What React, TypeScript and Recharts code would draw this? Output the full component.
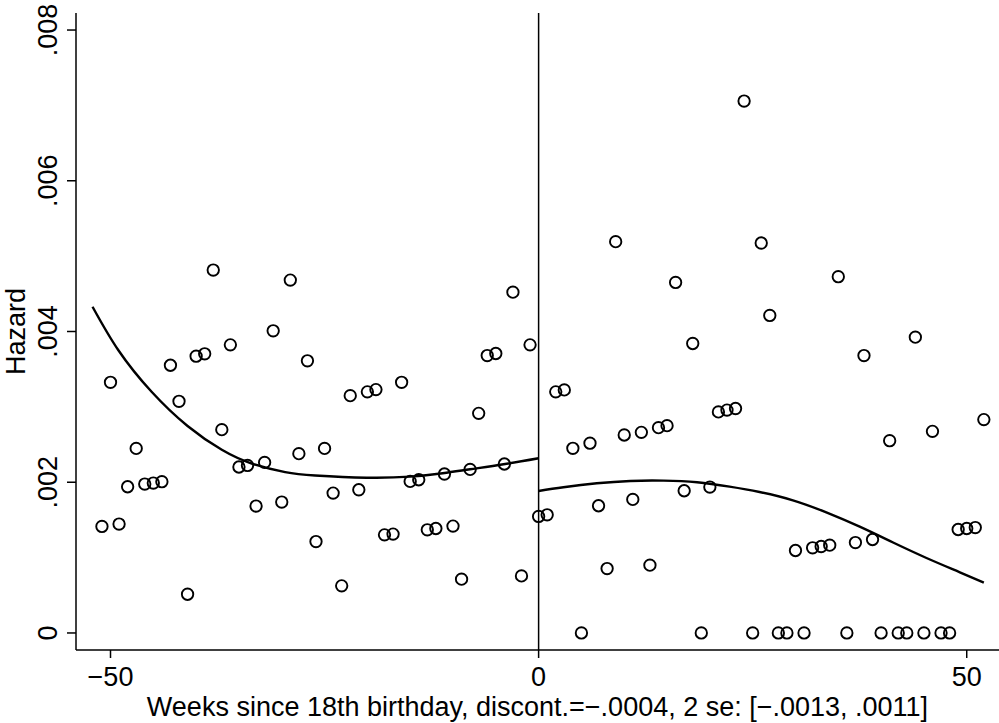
import { ComposedChart, Scatter, Line, XAxis, YAxis, ReferenceLine } from "recharts";

const FONT = "'Liberation Sans', Arial, Helvetica, sans-serif";
const FS = 27;

// weekly hazard, left of the 18th birthday
const leftWeeks = [
  -51, -50, -49, -48, -47, -46, -45, -44, -43, -42, -41, -40, -39, -38, -37, -36, -35, -34,
  -33, -32, -31, -30, -29, -28, -27, -26, -25, -24, -23, -22, -21, -20, -19, -18, -17, -16,
  -15, -14, -13, -12, -11, -10, -9, -8, -7, -6, -5, -4, -3, -2, -1, 0,
];
const leftHazard = [
  0.001413, 0.003326, 0.001445, 0.00194, 0.002449, 0.001976, 0.001989, 0.002007, 0.003552,
  0.003074, 0.000514, 0.003672, 0.003704, 0.004815, 0.002698, 0.003823, 0.002202, 0.002223,
  0.001684, 0.002263, 0.004009, 0.001737, 0.004682, 0.002379, 0.003611, 0.001213, 0.002449,
  0.001856, 0.000625, 0.003149, 0.0019, 0.003199, 0.003229, 0.001302, 0.001312, 0.003326,
  0.002011, 0.002033, 0.001369, 0.001386, 0.002109, 0.001418, 0.000714, 0.00217, 0.002914,
  0.003681, 0.003708, 0.002242, 0.004522, 0.000757, 0.003823, 0.001546,
];

// weekly hazard, right of the 18th birthday
const rightWeeks = [
  1, 2, 3, 4, 5, 6, 7, 8, 9, 10, 11, 12, 13, 14, 15, 16, 17, 18, 19, 20, 21, 22, 23, 24, 25, 26,
  27, 28, 29, 30, 31, 32, 33, 34, 35, 36, 37, 38, 39, 40, 41, 42, 43, 44, 45, 46, 47, 48, 49, 50,
  51, 52,
];
const rightHazard = [
  0.001568, 0.003199, 0.003225, 0.00245, 0, 0.002518, 0.001688, 0.000855, 0.005192, 0.002627,
  0.001772, 0.002662, 0.0009, 0.002724, 0.002751, 0.004651, 0.001887, 0.003841, 0, 0.001936,
  0.002933, 0.002957, 0.002978, 0.007058, 0, 0.005174, 0.004213, 0, 0, 0.001094, 0, 0.00113,
  0.001147, 0.001165, 0.004727, 0, 0.0012, 0.003681, 0.00124, 0, 0.002551, 0, 0, 0.003925, 0,
  0.002675, 0, 0, 0.001373, 0.001386, 0.001399, 0.002831,
];

// fitted polynomial
const leftFitWeeks = [-52.1, -49.1, -45.2, -41.0, -37.0, -33.5, -29.6, -26.1, -20.1, -15.0, -11.2, -8.0, -4.1, 0];
const leftFitHazard = [
  0.004329, 0.003755, 0.0032, 0.002746, 0.00243, 0.002248, 0.002135, 0.00209, 0.00206,
  0.002074, 0.002119, 0.002172, 0.002238, 0.002318,
];
const rightFitWeeks = [0, 2.9, 6.8, 10.7, 14.6, 18.5, 22.3, 25.8, 29.7, 33.6, 37.5, 41.4, 45.3, 49.2, 52];
const rightFitHazard = [
  0.001884, 0.001933, 0.001986, 0.002017, 0.002021, 0.001999, 0.001941, 0.00187, 0.00176,
  0.0016, 0.00141, 0.0012, 0.000995, 0.000805, 0.000667,
];

const xTicks = [-50, 0, 50];
const yTicks = [0, 0.002, 0.004, 0.006, 0.008];

const toRows = (xs: number[], ys: number[]) => xs.map((x, i) => ({ x, y: ys[i] }));
const points = [...toRows(leftWeeks, leftHazard), ...toRows(rightWeeks, rightHazard)];
const leftFit = toRows(leftFitWeeks, leftFitHazard);
const rightFit = toRows(rightFitWeeks, rightFitHazard);

const fmtX = (v: number) => (v < 0 ? "\u2212" + Math.abs(v) : String(v));
const fmtY = (v: number) => (v === 0 ? "0" : String(v).replace(/^0/, ""));

function XTick({ x, payload }: any) {
  return (
    <text x={x} y={686} textAnchor="middle" fontSize={FS} fontFamily={FONT} fill="#000">
      {fmtX(payload.value)}
    </text>
  );
}

function YTick({ y, payload }: any) {
  return (
    <text
      x={57}
      y={y}
      transform={`rotate(-90, 57, ${y})`}
      textAnchor="middle"
      fontSize={FS}
      fontFamily={FONT}
      fill="#000"
    >
      {fmtY(payload.value)}
    </text>
  );
}

function XTitle({ viewBox }: any) {
  const cx = viewBox ? viewBox.x + viewBox.width / 2 : 538;
  return (
    <text x={cx} y={716} textAnchor="middle" fontSize={FS} fontFamily={FONT} fill="#000">
      Weeks since 18th birthday, discont.=&#8722;.0004, 2 se: [&#8722;.0013, .0011]
    </text>
  );
}

function YTitle({ viewBox }: any) {
  const cy = viewBox ? viewBox.y + viewBox.height / 2 : 331;
  return (
    <text
      x={25}
      y={cy}
      transform={`rotate(-90, 25, ${cy})`}
      textAnchor="middle"
      fontSize={FS}
      fontFamily={FONT}
      fill="#000"
    >
      Hazard
    </text>
  );
}

const Ring = (props: any) => (
  <circle cx={props.cx} cy={props.cy} r={5.7} fill="none" stroke="#000" strokeWidth={1.9} />
);

export default function App() {
  return (
    <div style={{ position: "absolute", left: 0, top: 0, background: "#fff" }}>
      <ComposedChart
        width={999}
        height={723}
        data={points}
        margin={{ top: 13, right: 0, bottom: 0, left: 0 }}
      >
        <XAxis
          dataKey="x"
          type="number"
          domain={[-54.03, 53.77]}
          allowDataOverflow
          ticks={xTicks}
          height={73}
          tickSize={8}
          tick={<XTick />}
          axisLine={{ stroke: "#000", strokeWidth: 1.5 }}
          tickLine={{ stroke: "#000", strokeWidth: 1.5 }}
          label={<XTitle />}
        />
        <YAxis
          dataKey="y"
          type="number"
          domain={[-0.000226, 0.008226]}
          allowDataOverflow
          ticks={yTicks}
          width={76}
          tickSize={9}
          tick={<YTick />}
          axisLine={{ stroke: "#000", strokeWidth: 1.5 }}
          tickLine={{ stroke: "#000", strokeWidth: 1.5 }}
          label={<YTitle />}
        />
        <ReferenceLine x={0} stroke="#000" strokeWidth={1.5} />
        <Scatter data={points} dataKey="y" shape={<Ring />} isAnimationActive={false} />
        <Line
          data={leftFit}
          dataKey="y"
          type="natural"
          dot={false}
          stroke="#000"
          strokeWidth={2.4}
          isAnimationActive={false}
        />
        <Line
          data={rightFit}
          dataKey="y"
          type="natural"
          dot={false}
          stroke="#000"
          strokeWidth={2.4}
          isAnimationActive={false}
        />
      </ComposedChart>
    </div>
  );
}
